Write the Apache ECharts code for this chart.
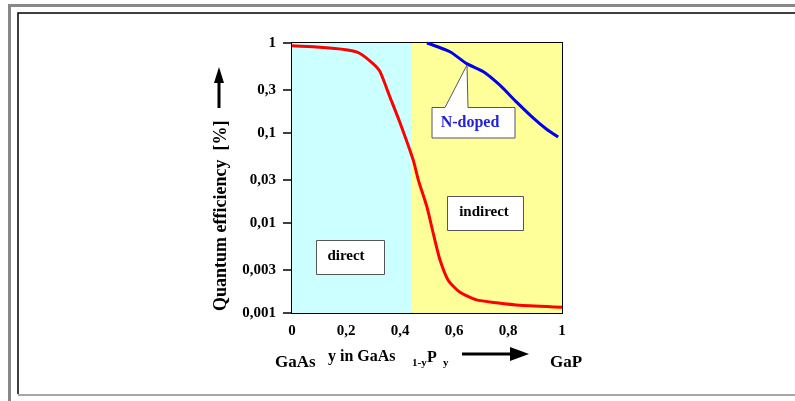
<!DOCTYPE html>
<html>
<head>
<meta charset="utf-8">
<script src="https://cdn.jsdelivr.net/npm/echarts@6/dist/echarts.min.js"></script>
<style>
  html, body { margin: 0; padding: 0; background: #fff; }
  #main { width: 795px; height: 401px; }
</style>
</head>
<body>
<div id="main"></div>
<script>
// composition y in GaAs(1-y)P(y) and quantum efficiency in %
var redX = [0, 0.09, 0.2, 0.25, 0.3, 0.326, 0.363, 0.4, 0.449, 0.468, 0.5, 0.523, 0.548, 0.579, 0.622, 0.683, 0.758, 0.844, 1.0];
var redY = [0.93, 0.9, 0.84, 0.77, 0.59, 0.48, 0.25, 0.13, 0.05, 0.03, 0.015, 0.0077, 0.0039, 0.0023, 0.0017, 0.0014, 0.0013, 0.00122, 0.00116];

var blueX = [0.5, 0.585, 0.647, 0.709, 0.77, 0.832, 0.894, 0.943, 0.986];
var blueY = [1.0, 0.8, 0.59, 0.48, 0.34, 0.22, 0.146, 0.11, 0.09];

var directEnd = 0.444; // direct / indirect crossover

var yTicks = [0.001, 0.003, 0.01, 0.03, 0.1, 0.3, 1];

var font = 'Liberation Serif';

function toLog(v) { return Math.log10(v); }
function pairs(xs, ys) {
    return xs.map(function (x, i) { return [x, toLog(ys[i])]; });
}
function comma(v) { return String(v).replace('.', ','); }

var myChart = echarts.init(document.getElementById('main'));

var option = {
    animation: false,
    grid: {
        left: 292, right: 233, top: 43, bottom: 88,
        show: true, borderColor: '#000', borderWidth: 2,
        backgroundColor: 'transparent'
    },
    xAxis: {
        type: 'value', min: 0, max: 1, interval: 0.2,
        axisLine: { lineStyle: { color: '#000', width: 2 } },
        axisTick: { inside: false, length: 8, lineStyle: { color: '#000', width: 1.5 } },
        splitLine: { show: false },
        axisLabel: {
            margin: 11, color: '#000', fontFamily: font, fontWeight: 'bold', fontSize: 15,
            formatter: function (v) { return comma(+v.toFixed(1)); }
        }
    },
    yAxis: {
        type: 'value', min: -3, max: 0,
        axisLine: { lineStyle: { color: '#000', width: 2 } },
        axisTick: {
            length: 9, lineStyle: { color: '#000', width: 1.5 },
            customValues: yTicks.map(toLog)
        },
        splitLine: { show: false },
        axisLabel: {
            margin: 16, color: '#000', fontFamily: font, fontWeight: 'bold', fontSize: 15,
            customValues: yTicks.map(toLog),
            formatter: function (v) {
                var best = yTicks.reduce(function (a, b) {
                    return Math.abs(toLog(b) - v) < Math.abs(toLog(a) - v) ? b : a;
                });
                return comma(best);
            }
        }
    },
    series: [
        {
            type: 'line', data: pairs(redX, redY), symbol: 'none', smooth: 0.2,
            lineStyle: { color: '#ff0000', width: 3 }, z: 5,
            markArea: {
                silent: true,
                data: [
                    [{ xAxis: 0, itemStyle: { color: '#ccffff' } }, { xAxis: directEnd }],
                    [{ xAxis: directEnd, itemStyle: { color: '#ffff99' } }, { xAxis: 1 }]
                ]
            }
        },
        {
            type: 'line', data: pairs(blueX, blueY), symbol: 'none', smooth: 0.2,
            lineStyle: { color: '#0000ee', width: 3 }, z: 5
        }
    ],
    graphic: [
        // outer frame
        { type: 'polyline', shape: { points: [[9.5, 401], [9.5, 5.5], [800, 5.5]] },
          style: { stroke: '#888', lineWidth: 3, fill: null } },
        { type: 'polyline', shape: { points: [[800, 13], [18, 13], [18, 394]] },
          style: { stroke: '#000', lineWidth: 1.5, fill: null } },
        { type: 'line', shape: { x1: 18, y1: 395, x2: 800, y2: 395 },
          style: { stroke: '#888', lineWidth: 1.5 } },
        // y axis title and arrow
        { type: 'text', x: 221, y: 311, rotation: Math.PI / 2,
          style: { text: 'Quantum efficiency  [%]', font: 'bold 18px "Liberation Serif"',
                   fill: '#000', align: 'left', verticalAlign: 'middle' } },
        { type: 'line', shape: { x1: 219, y1: 80, x2: 219, y2: 108 },
          style: { stroke: '#000', lineWidth: 3 } },
        { type: 'polygon', shape: { points: [[219, 67], [214, 83], [224, 83]] },
          style: { fill: '#000' } },
        // region labels
        { type: 'rect', shape: { x: 316.5, y: 240.5, width: 68, height: 34 },
          style: { fill: '#fff', stroke: '#555', lineWidth: 1 }, z: 10 },
        { type: 'text', x: 346, y: 256, z: 11,
          style: { text: 'direct', font: 'bold 15px "Liberation Serif"', fill: '#000',
                   align: 'center', verticalAlign: 'middle' } },
        { type: 'rect', shape: { x: 447.5, y: 196.5, width: 76, height: 34 },
          style: { fill: '#fff', stroke: '#555', lineWidth: 1 }, z: 10 },
        { type: 'text', x: 484, y: 212, z: 11,
          style: { text: 'indirect', font: 'bold 15px "Liberation Serif"', fill: '#000',
                   align: 'center', verticalAlign: 'middle' } },
        // N-doped callout
        { type: 'polygon', z: 10,
          shape: { points: [[432, 107.5], [445, 107.5], [467, 65], [468, 107.5], [515, 107.5], [515, 138], [432, 138]] },
          style: { fill: '#fff', stroke: '#556', lineWidth: 1 } },
        { type: 'text', x: 470, y: 123, z: 11,
          style: { text: 'N-doped', font: 'bold 16px "Liberation Serif"', fill: '#2222dd',
                   align: 'center', verticalAlign: 'middle' } },
        // x axis title
        { type: 'text', x: 275, y: 363,
          style: { text: 'GaAs', font: 'bold 17px "Liberation Serif"', fill: '#000',
                   align: 'left', verticalAlign: 'middle' } },
        { type: 'text', x: 328, y: 357,
          style: { text: 'y in GaAs', font: 'bold 16px "Liberation Serif"', fill: '#000',
                   align: 'left', verticalAlign: 'middle' } },
        { type: 'text', x: 412, y: 363,
          style: { text: '1-y', font: 'bold 11px "Liberation Serif"', fill: '#000',
                   align: 'left', verticalAlign: 'middle' } },
        { type: 'text', x: 427, y: 358,
          style: { text: 'P', font: 'bold 16px "Liberation Serif"', fill: '#000',
                   align: 'left', verticalAlign: 'middle' } },
        { type: 'text', x: 443, y: 363,
          style: { text: 'y', font: 'bold 11px "Liberation Serif"', fill: '#000',
                   align: 'left', verticalAlign: 'middle' } },
        { type: 'line', shape: { x1: 462, y1: 354, x2: 512, y2: 354 },
          style: { stroke: '#000', lineWidth: 3 } },
        { type: 'polygon', shape: { points: [[529, 354], [510, 347], [510, 361]] },
          style: { fill: '#000' } },
        { type: 'text', x: 550, y: 363,
          style: { text: 'GaP', font: 'bold 17px "Liberation Serif"', fill: '#000',
                   align: 'left', verticalAlign: 'middle' } }
    ]
};

myChart.setOption(option);
</script>
</body>
</html>
